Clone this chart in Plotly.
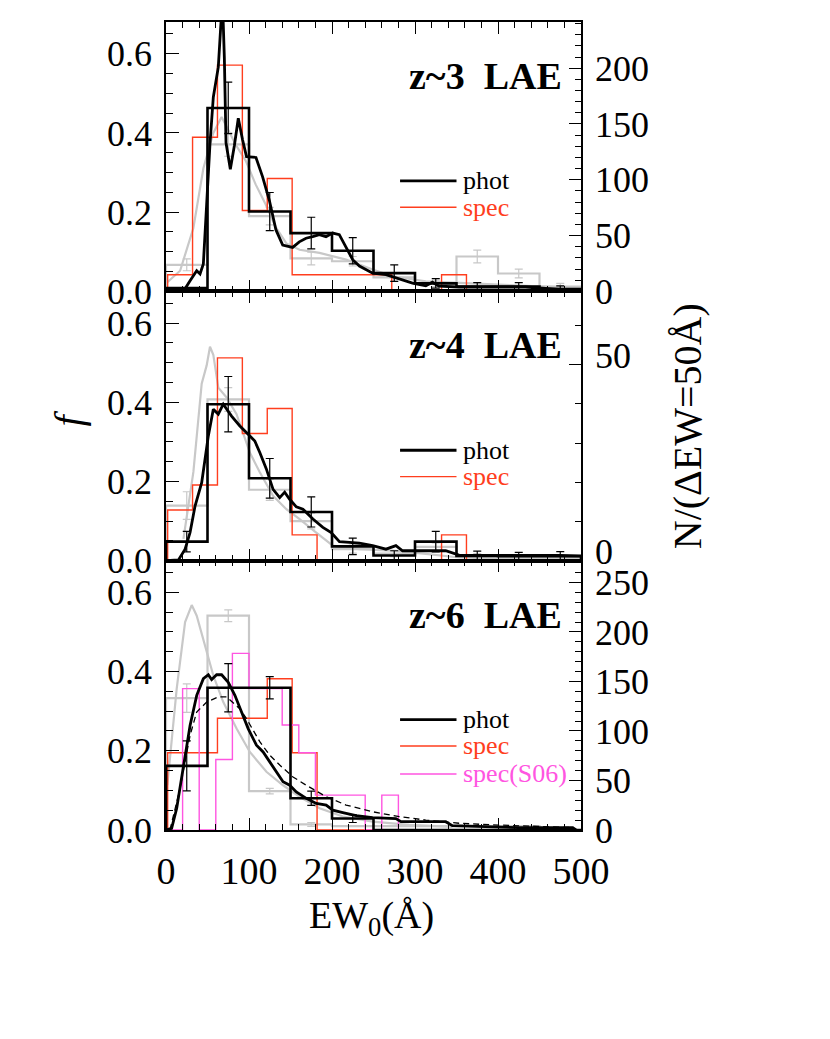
import plotly.graph_objects as go

# EW bins (Angstrom)
edges50 = [0, 50, 100, 150, 200, 250, 300, 350, 400, 450, 500]
centers50 = [25, 75, 125, 175, 225, 275, 325, 375, 425, 475]
edges30 = [2, 32, 62, 92, 122, 152, 182, 212, 242, 272, 302, 332, 362]
edges20 = [0, 20, 40, 60, 80, 100, 120, 140, 160, 180, 200, 220, 240, 260, 280]

# z~3 panel
phot3 = [0.008, 0.463, 0.2015, 0.147, 0.1025, 0.046, 0.02, 0.012, 0.012, 0.006]
phot3_err = [0.0, 0.065, 0.048, 0.04, 0.033, 0.021, 0.012, 0.01, 0.01, 0.008]
lit3 = [0.067, 0.371, 0.19, 0.083, 0.076, 0.035, 0.02, 0.088, 0.045, 0.012]
lit3_err = [0.015, 0.03, 0.022, 0.016, 0.012, 0.01, 0.008, 0.016, 0.011, 0.008]
spec3 = [0.042, 0.389, 0.571, 0.204, 0.285, 0.042, 0.042, 0.042, 0.042, 0.0, 0.0, 0.042]
curve3_x = [0, 21, 29, 37, 41, 45, 49, 53, 57, 63, 68, 70.3, 72.3, 77.5, 82.3, 87.1, 92.3, 97,
            108.4, 116.4, 124.5, 132.5, 140.6, 152.6, 160.6, 168.7, 176.7, 184.7, 192.8, 200.8,
            208.8, 216.9, 224.9, 233, 241, 249, 265, 281, 297, 313, 321, 329, 353, 393, 433, 474, 490]
curve3_f = [0.0, 0.0, 0.027, 0.052, 0.044, 0.069, 0.22, 0.373, 0.49, 0.566, 0.74, 0.59, 0.375,
            0.308, 0.367, 0.437, 0.382, 0.34, 0.338, 0.289, 0.23, 0.155, 0.117, 0.111, 0.125,
            0.134, 0.138, 0.143, 0.138, 0.147, 0.143, 0.113, 0.08, 0.064, 0.054, 0.046, 0.042,
            0.031, 0.021, 0.014, 0.023, 0.013, 0.011, 0.011, 0.011, 0.005, 0.002]
litcurve3_x = [0, 17, 33, 45, 57, 67, 72, 84, 96, 108, 120, 132, 145, 161, 185, 217, 249, 273,
               313, 353, 393, 433, 474, 500]
litcurve3_f = [0.02, 0.052, 0.16, 0.31, 0.4, 0.44, 0.42, 0.37, 0.33, 0.27, 0.22, 0.163, 0.121,
               0.105, 0.097, 0.08, 0.055, 0.038, 0.025, 0.021, 0.017, 0.014, 0.01, 0.008]

# z~4 panel
phot4 = [0.048, 0.395, 0.208, 0.123, 0.036, 0.013, 0.048, 0.012, 0.011, 0.011]
phot4_err = [0.026, 0.07, 0.05, 0.038, 0.021, 0.012, 0.026, 0.012, 0.01, 0.012]
lit4 = [0.139, 0.407, 0.179, 0.1, 0.029, 0.018, 0.035, 0.012, 0.008, 0.008]
lit4_err = [0.035, 0.03, 0.027, 0.02, 0.01, 0.008, 0.01, 0.006, 0.005, 0.005]
spec4 = [0.128, 0.191, 0.512, 0.321, 0.384, 0.065, 0.0, 0.0, 0.0, 0.0, 0.0, 0.065]
curve4_x = [0, 15, 23, 29, 35, 43, 51, 57, 63, 69, 79, 89, 99, 107, 113, 121, 129, 137, 143, 149,
            157, 165, 177, 189, 199, 209, 221, 233, 249, 265, 277, 285, 313, 337, 353, 393, 474, 500]
curve4_f = [0.0, 0.002, 0.029, 0.071, 0.138, 0.197, 0.315, 0.382, 0.37, 0.395, 0.365, 0.34,
            0.319, 0.302, 0.273, 0.231, 0.18, 0.159, 0.173, 0.155, 0.136, 0.13, 0.105, 0.084,
            0.071, 0.048, 0.046, 0.044, 0.038, 0.029, 0.038, 0.025, 0.025, 0.025, 0.014, 0.013,
            0.013, 0.012]
litcurve4_x = [21, 33, 43, 49, 53, 57, 63, 73, 85, 101, 113, 129, 145, 161, 181, 201, 233, 273,
               313, 353, 400, 450, 500]
litcurve4_f = [0.055, 0.224, 0.447, 0.493, 0.54, 0.52, 0.437, 0.412, 0.37, 0.273, 0.223, 0.164,
               0.13, 0.105, 0.071, 0.038, 0.029, 0.025, 0.017, 0.008, 0.006, 0.005, 0.004]

# z~6 panel
phot6 = [0.162, 0.359, 0.359, 0.08, 0.029, 0.0, 0.0, 0.0, 0.0, 0.0]
phot6_err = [0.063, 0.061, 0.028, 0.018, 0.01, 0.0, 0.0, 0.0, 0.0, 0.0]
lit6 = [0.333, 0.541, 0.098, 0.014, 0.01, 0.01, 0.01, 0.01, 0.01, 0.0]
lit6_err = [0.036, 0.015, 0.007, 0.005, 0.0, 0.0, 0.0, 0.0, 0.0, 0.0]
spec6 = [0.195, 0.195, 0.282, 0.282, 0.382, 0.195, 0.0, 0.0, 0.0, 0.0, 0.0, 0.0]
s06 = [0.0, 0.357, 0.0, 0.178, 0.446, 0.357, 0.357, 0.265, 0.195, 0.088, 0.088, 0.088, 0.0, 0.088]
curve6_x = [0, 6.8, 12.9, 20.9, 29, 37, 45, 51, 55, 61, 67, 75, 83, 91, 99, 109, 117, 125, 133,
            141, 149, 157, 169, 181, 193, 201, 213, 229, 249, 277, 283, 337, 345, 393, 425, 490, 494]
curve6_f = [0.0, 0.004, 0.055, 0.155, 0.264, 0.34, 0.382, 0.392, 0.38, 0.392, 0.392, 0.373,
            0.34, 0.298, 0.256, 0.214, 0.197, 0.172, 0.147, 0.122, 0.113, 0.096, 0.08, 0.067,
            0.063, 0.05, 0.044, 0.036, 0.031, 0.029, 0.021, 0.021, 0.011, 0.008, 0.006, 0.006, 0.0]
model6_x = [4.8, 16.9, 29, 37, 49, 63, 73, 89, 97, 113, 125, 137, 153, 169, 193, 217, 249, 281,
            313, 353, 393, 433, 490]
model6_f = [0.0, 0.105, 0.239, 0.298, 0.323, 0.336, 0.336, 0.306, 0.281, 0.223, 0.189, 0.164,
            0.134, 0.113, 0.084, 0.063, 0.046, 0.034, 0.025, 0.017, 0.013, 0.01, 0.006]
litcurve6_x = [1.6, 12.9, 23, 31, 37, 47, 57, 69, 85, 101, 121, 141, 161, 185, 213, 249, 293, 345]
litcurve6_f = [0.113, 0.357, 0.525, 0.568, 0.541, 0.466, 0.39, 0.323, 0.256, 0.197, 0.147,
               0.113, 0.084, 0.055, 0.034, 0.021, 0.013, 0.008]

# f -> N(dEW=50A) conversion for the right-hand axes
n_scale = [355, 101, 400]
n_ticks = [[0, 50, 100, 150, 200], [0, 50], [0, 50, 100, 150, 200, 250]]
labels = ["z~3  LAE", "z~4  LAE", "z~6  LAE"]

FMAX = 0.68
FONT = "Liberation Serif"
GRAY = "rgb(200,200,200)"
RED = "rgb(255,62,30)"
PINK = "rgb(255,85,225)"


def step_xy(edges, vals):
    xs = [edges[0]] + list(edges)
    ys = [0] + list(vals) + [0]
    return xs, ys


def step_trace(edges, vals, color, width, xa, ya):
    xs, ys = step_xy(edges, vals)
    return go.Scatter(x=xs, y=ys, mode="lines", line=dict(color=color, width=width, shape="hv"),
                      xaxis=xa, yaxis=ya, showlegend=False, hoverinfo="skip")


def err_trace(xc, vals, errs, color, width, xa, ya):
    xs = [x for x, e in zip(xc, errs) if e > 0]
    ys = [v for v, e in zip(vals, errs) if e > 0]
    es = [e for e in errs if e > 0]
    return go.Scatter(x=xs, y=ys, mode="markers", marker=dict(size=1, color=color, opacity=0),
                      error_y=dict(type="data", array=es, color=color, thickness=width, width=4),
                      xaxis=xa, yaxis=ya, showlegend=False, hoverinfo="skip")


def line_trace(xs, ys, color, width, xa, ya, dash="solid"):
    return go.Scatter(x=xs, y=ys, mode="lines", line=dict(color=color, width=width, dash=dash),
                      xaxis=xa, yaxis=ya, showlegend=False, hoverinfo="skip")


fig = go.Figure()

panels = [
    dict(phot=phot3, perr=phot3_err, lit=lit3, lerr=lit3_err, spec=spec3,
         cx=curve3_x, cf=curve3_f, lx=litcurve3_x, lf=litcurve3_f),
    dict(phot=phot4, perr=phot4_err, lit=lit4, lerr=lit4_err, spec=spec4,
         cx=curve4_x, cf=curve4_f, lx=litcurve4_x, lf=litcurve4_f),
    dict(phot=phot6, perr=phot6_err, lit=lit6, lerr=lit6_err, spec=spec6,
         cx=curve6_x, cf=curve6_f, lx=litcurve6_x, lf=litcurve6_f),
]

for i, p in enumerate(panels):
    xa = "x" if i == 0 else f"x{i + 1}"
    ya = "y" if i == 0 else f"y{2 * i + 1}"
    yr = f"y{2 * i + 2}"
    fig.add_trace(step_trace(edges50, p["lit"], GRAY, 2.2, xa, ya))
    fig.add_trace(line_trace(p["lx"], p["lf"], GRAY, 2.2, xa, ya))
    fig.add_trace(err_trace(centers50, p["lit"], p["lerr"], GRAY, 1.2, xa, ya))
    fig.add_trace(step_trace(edges30, p["spec"], RED, 1.4, xa, ya))
    if i == 2:
        fig.add_trace(step_trace(edges20, s06, PINK, 1.4, xa, ya))
    fig.add_trace(step_trace(edges50, p["phot"], "black", 2.6, xa, ya))
    fig.add_trace(line_trace(p["cx"], p["cf"], "black", 2.8, xa, ya))
    if i == 2:
        fig.add_trace(line_trace(model6_x, model6_f, "black", 1.3, xa, ya, dash="6px,4px"))
    fig.add_trace(err_trace(centers50, p["phot"], p["perr"], "black", 1.2, xa, ya))
    # keeps the right-hand N axis alive
    fig.add_trace(go.Scatter(x=[None], y=[None], xaxis=xa, yaxis=yr, showlegend=False))

axis_common = dict(showline=True, linecolor="black", linewidth=1.5, ticks="inside",
                   tickcolor="black", tickwidth=1.2, showgrid=False, zeroline=False,
                   tickfont=dict(family=FONT, size=36, color="black"))

# the page body adds an 8px offset, margins compensate for it
layout = dict(width=830, height=1039, plot_bgcolor="white", paper_bgcolor="white",
              margin=dict(l=158, r=257, t=12, b=217), showlegend=False,
              font=dict(family=FONT, color="black"))

domains = [[2 / 3, 1.0], [1 / 3, 2 / 3], [0.0, 1 / 3]]
right_shift = [0, -9, 0]
annotations = []
shapes = []
for i in range(3):
    xkey = "xaxis" if i == 0 else f"xaxis{i + 1}"
    ykey = "yaxis" if i == 0 else f"yaxis{2 * i + 1}"
    rkey = f"yaxis{2 * i + 2}"
    yname = "y" if i == 0 else f"y{2 * i + 1}"
    xname = "x" if i == 0 else f"x{i + 1}"
    layout[xkey] = dict(axis_common, domain=[0, 1], anchor=yname, range=[0, 500],
                        tickvals=[0, 100, 200, 300, 400, 500], ticklen=12, mirror="ticks",
                        minor=dict(dtick=20, ticks="inside", ticklen=6, tickcolor="black"),
                        showticklabels=(i == 2), ticklabelstandoff=7,
                        tickfont=dict(family=FONT, size=38, color="black"))
    layout[ykey] = dict(axis_common, domain=domains[i], anchor=xname, range=[0, FMAX],
                        tickvals=[0, 0.2, 0.4, 0.6], tickformat=".1f", ticklen=13,
                        minor=dict(dtick=0.05, ticks="inside", ticklen=7, tickcolor="black"),
                        ticklabelstandoff=5)
    layout[rkey] = dict(axis_common, overlaying=yname, side="right", anchor=xname,
                        range=[0, FMAX * n_scale[i]], tickvals=n_ticks[i], ticklen=12,
                        minor=dict(dtick=10, ticks="inside", ticklen=6, tickcolor="black"),
                        ticklabelstandoff=5, ticklabelshift=right_shift[i])

    # panel label
    annotations.append(dict(text=f"<b>{labels[i]}</b>", xref=f"{xname} domain",
                            yref=f"{yname} domain", x=0.96, y=0.80, xanchor="right",
                            yanchor="middle", showarrow=False,
                            font=dict(family=FONT, size=38, color="black")))
    # legend
    entries = [("phot", "black", 2.8), ("spec", RED, 1.4)]
    if i == 2:
        entries.append(("spec(S06)", PINK, 1.4))
    for k, (name, col, w) in enumerate(entries):
        yy = [0.41, 0.312, 0.208][k]
        shapes.append(dict(type="line", xref=f"{xname} domain", yref=f"{yname} domain",
                           x0=0.564, x1=0.7, y0=yy, y1=yy, line=dict(color=col, width=w)))
        annotations.append(dict(text=name, xref=f"{xname} domain", yref=f"{yname} domain",
                                x=0.712, y=yy, xanchor="left", yanchor="middle",
                                showarrow=False, font=dict(family=FONT, size=26, color=col)))

annotations.append(dict(text="EW<sub>0</sub>(Å)", xref="paper", yref="paper", x=0.496,
                        y=-0.109, xanchor="center", yanchor="middle", showarrow=False,
                        font=dict(family=FONT, size=38, color="black")))
annotations.append(dict(text="<i>f</i>", xref="paper", yref="paper", x=-0.235, y=0.51,
                        xanchor="center", yanchor="middle", showarrow=False, textangle=-90,
                        font=dict(family=FONT, size=40, color="black")))
annotations.append(dict(text="N/(ΔEW=50Å)", xref="paper", yref="paper", x=1.256, y=0.5,
                        xanchor="center", yanchor="middle", showarrow=False, textangle=-90,
                        font=dict(family=FONT, size=40, color="black")))

layout["annotations"] = annotations
layout["shapes"] = shapes
fig.update_layout(**layout)

fig.write_html("out.html")
